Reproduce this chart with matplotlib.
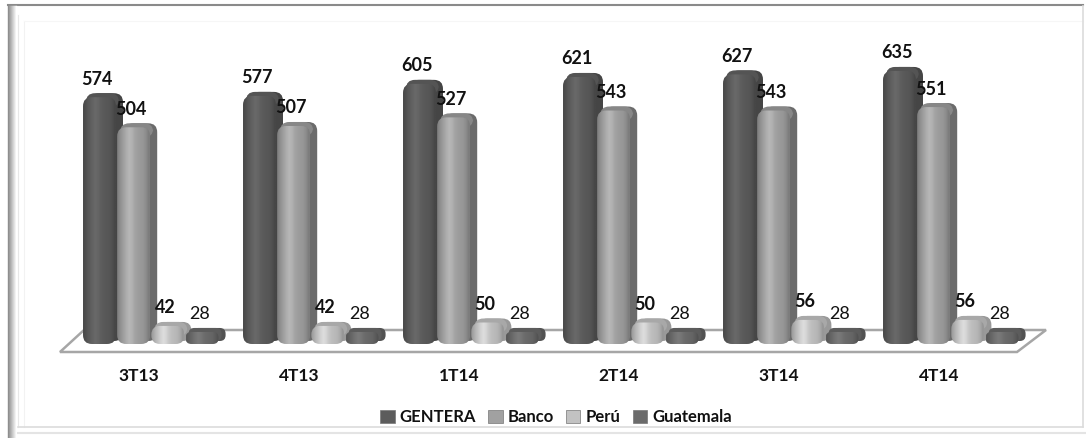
import numpy as np
import matplotlib
matplotlib.use("Agg")
import matplotlib.pyplot as plt
from matplotlib.patches import FancyBboxPatch, Polygon, Patch
from matplotlib.lines import Line2D
from matplotlib.transforms import Affine2D

# Data
quarters = ["3T13", "4T13", "1T14", "2T14", "3T14", "4T14"]
series_names = ["GENTERA", "Banco", "Perú", "Guatemala"]
gentera = [574, 577, 605, 621, 627, 635]
banco = [504, 507, 527, 543, 543, 551]
peru = [42, 42, 50, 50, 56, 56]
guatemala = [28, 28, 28, 28, 28, 28]

# Greys: front face, side face, top cap
front_grey = [0.36, 0.63, 0.76, 0.42]
side_grey = [0.27, 0.42, 0.60, 0.32]
cap_grey = [0.33, 0.53, 0.66, 0.36]
label_weight = ["bold", "bold", "bold", "normal"]

W, H = 1086, 438
plt.rcParams["font.family"] = ["Lato", "DejaVu Sans"]

# Pixel scales of the value and category axes
px_per_group = 160.0
px_per_value = 0.43
left_px = 83
zero_px = 340

fig = plt.figure(figsize=(W / 100, H / 100), dpi=100)
ax = fig.add_axes([0, 0, 1, 1])
xlim = (-left_px / px_per_group, (W - left_px) / px_per_group)
ylim = ((zero_px - H) / px_per_value, zero_px / px_per_value)
xu = 1 / px_per_group
yu = 1 / px_per_value
aspect = yu / xu
ax.axis("off")

# Frame in image pixels
px = Affine2D().scale(1, -1).translate(0, H)


def frame_line(xs, ys, color, lw=1.0):
    fig.add_artist(Line2D(xs, ys, color=color, lw=lw, transform=px))


frame_line([8, 1083], [5, 5], "#8a8a8a", 1.5)
for i, g in enumerate(np.linspace(0.55, 1.0, 9)):
    frame_line([8 + i, 8 + i], [6, 437], str(g), 1.0)
frame_line([18, 18], [15, 427], "#e8e8e8", 0.8)
frame_line([24, 24], [21, 427], "#f2f2f2", 0.8)
frame_line([24, 1083], [21, 21], "#f6f6f6", 0.8)
frame_line([18, 1083], [427, 427], "#dcdcdc", 1.2)
frame_line([1083, 1083], [6, 427], "#dcdcdc", 1.2)
frame_line([18, 1086], [433, 433], "#e4e4e4", 1.5)

# Floor
floor = Polygon(
    [
        (-23 * xu, -12 * yu),
        (934 * xu, -12 * yu),
        (963 * xu, 10 * yu),
        (1 * xu, 10 * yu),
    ],
    closed=True,
    facecolor="white",
    edgecolor="#a6a6a6",
    lw=1.8,
    zorder=1,
)
ax.add_patch(floor)

profile = np.array([0.82, 0.92, 1.0, 1.08, 1.14, 1.1, 1.02, 0.98, 0.96, 0.94, 0.88, 0.78])
bar_w = 33 * xu
pitch = 34.2 * xu
depth_x = 7 * xu
depth_y = 4 * yu
base = -4 * yu
back_base = -1 * yu
round_x = 9 * xu

all_series = [gentera, banco, peru, guatemala]
z = 2
for i, quarter in enumerate(quarters):
    for j, values in enumerate(all_series):
        v = values[i]
        x0 = i + j * pitch
        top = v - depth_y
        r = min(round_x, (top - base) / aspect * 0.48)
        style = f"round,pad=0,rounding_size={r}"

        # side of the bar
        back = FancyBboxPatch(
            (x0 + depth_x, back_base),
            bar_w,
            v - back_base,
            boxstyle=style,
            mutation_aspect=aspect,
            facecolor=str(side_grey[j]),
            edgecolor="none",
            zorder=z,
        )
        ax.add_patch(back)

        # top cap, lighter than the side
        cap_h = min(14 * yu, v - back_base)
        cap = FancyBboxPatch(
            (x0 + 3 * xu, v - cap_h),
            bar_w,
            cap_h,
            boxstyle=style,
            mutation_aspect=aspect,
            facecolor=str(cap_grey[j]),
            edgecolor="none",
            zorder=z,
        )
        ax.add_patch(cap)

        # front face with a cylinder shading
        front = FancyBboxPatch(
            (x0, base),
            bar_w,
            top - base,
            boxstyle=style,
            mutation_aspect=aspect,
            facecolor="none",
            edgecolor="none",
            zorder=z + 1,
        )
        ax.add_patch(front)
        im = ax.imshow(
            (front_grey[j] * profile)[None, :],
            extent=(x0, x0 + bar_w, base, top),
            cmap="gray",
            vmin=0,
            vmax=1,
            aspect="auto",
            interpolation="bilinear",
            zorder=z + 1,
        )
        im.set_clip_path(front)

        ax.annotate(
            str(v),
            (x0 + bar_w / 2, v),
            xytext=(-3 * 0.72, 14 * 0.72),
            textcoords="offset points",
            ha="center",
            va="center",
            fontsize=13,
            fontweight=label_weight[j],
            color="#111111",
            zorder=200,
        )
        z += 2

    ax.text(
        i + 56 * xu,
        -36 * yu,
        quarter,
        ha="center",
        va="center",
        fontsize=12.5,
        fontweight="bold",
        color="#111111",
        zorder=200,
    )

ax.set_xlim(*xlim)
ax.set_ylim(*ylim)

handles = [
    Patch(facecolor=str(front_grey[j]), edgecolor="#777777", lw=0.5, label=series_names[j])
    for j in range(4)
]
fig.legend(
    handles=handles,
    loc="center",
    bbox_to_anchor=(556 / W, 1 - 417 / H),
    ncol=4,
    frameon=False,
    handlelength=0.85,
    handleheight=0.85,
    handletextpad=0.3,
    columnspacing=0.75,
    prop={"size": 12, "weight": "bold"},
    labelcolor="#111111",
)

fig.savefig("out.png", dpi=100)
